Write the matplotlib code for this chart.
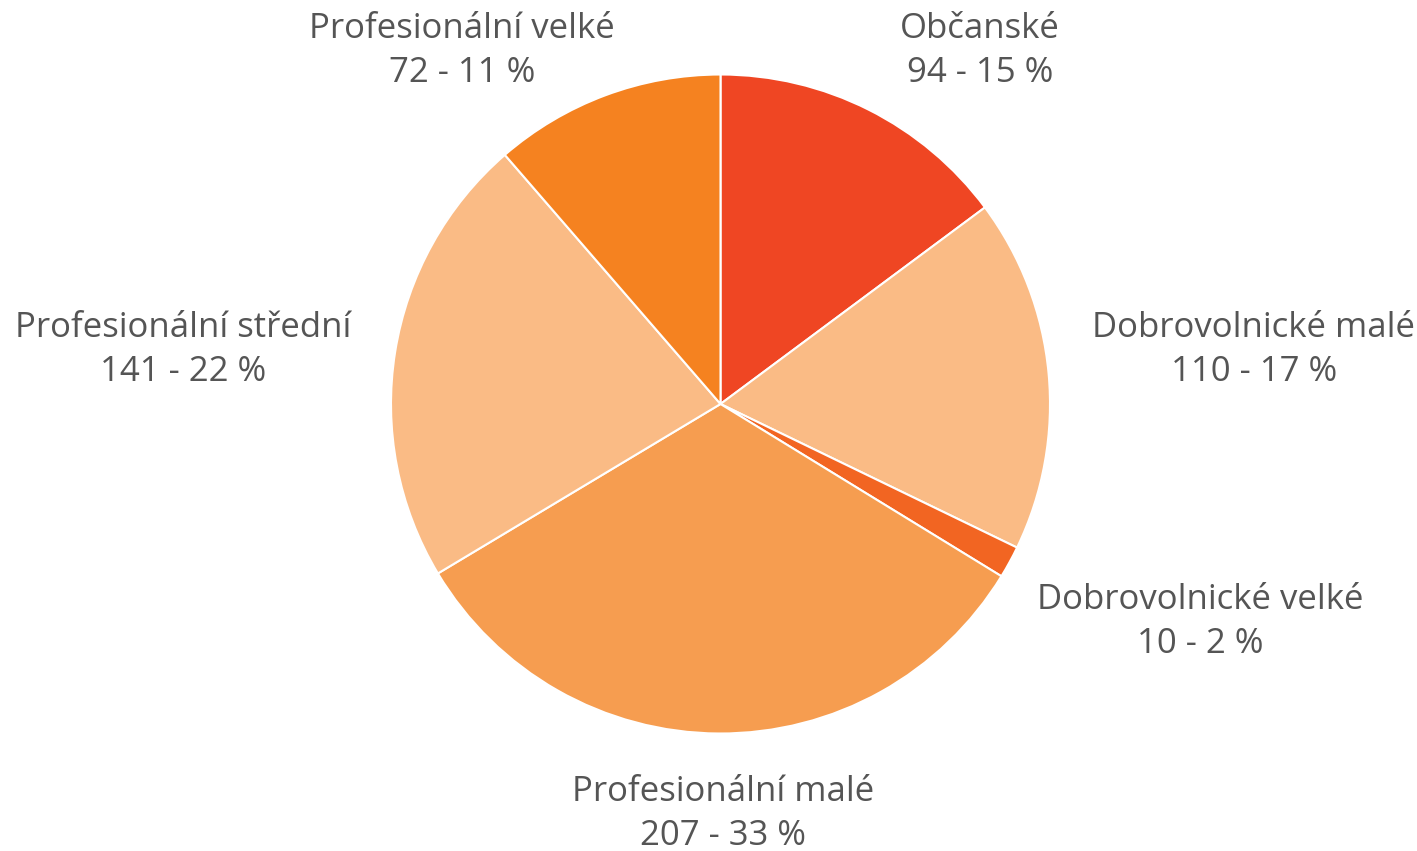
import matplotlib
matplotlib.use("Agg")
import matplotlib.pyplot as plt

# data
labels = ["Občanské", "Dobrovolnické malé", "Dobrovolnické velké",
          "Profesionální malé", "Profesionální střední", "Profesionální velké"]
values = [94, 110, 10, 207, 141, 72]
colors = ["#EF4623", "#FABB85", "#F26522", "#F69D50", "#FABB85", "#F58220"]

# label centres in pixels (x, y from top), highcharts-like placement
label_px = [(980, 51), (1254, 350), (1200, 622), (723, 814), (183, 350), (462, 51)]

W, H = 1417, 851
cx, cy, r = 720.5, 404, 329.5

fig = plt.figure(figsize=(W / 100, H / 100), dpi=100)
ax = fig.add_axes([0, 0, 1, 1])
ax.pie(values, colors=colors, startangle=90, counterclock=False,
       radius=r, center=(cx, H - cy),
       wedgeprops=dict(edgecolor="white", linewidth=1.5))
ax.set_xlim(0, W)
ax.set_ylim(0, H)
ax.set_aspect("equal")
ax.axis("off")

total = sum(values)
for lab, v, (x, y) in zip(labels, values, label_px):
    pct = round(100 * v / total)
    ax.text(x, H - y, f"{lab}\n{v} - {pct} %", ha="center", va="center",
            fontsize=25, family=["Open Sans", "DejaVu Sans"],
            color="#555555", linespacing=1.36)

fig.savefig("out.png", dpi=100)
